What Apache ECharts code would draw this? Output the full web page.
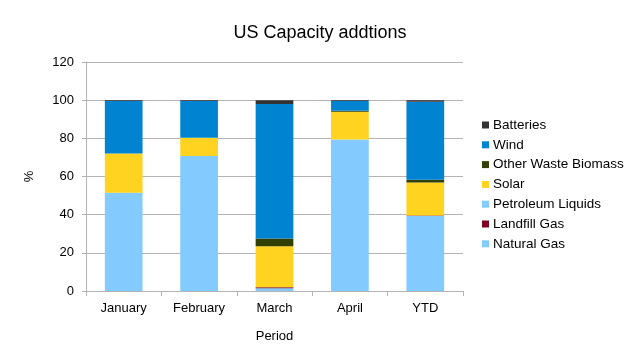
<!DOCTYPE html>
<html><head><meta charset="utf-8">
<script src="https://cdn.jsdelivr.net/npm/echarts@6/dist/echarts.min.js"></script>
<style>html,body{margin:0;padding:0;background:#fff}#c{width:640px;height:360px}</style>
</head><body><div id="c"></div>
<script>
const categories = ["January", "February", "March", "April", "YTD"];
const naturalGas = [51.5, 70.7, 1.5, 79.4, 39.3];
const landfillGas = [0, 0, 0.5, 0, 0.2];
const petroleumLiquids = [0, 0, 0, 0, 0];
const solar = [20.6, 9.6, 21.5, 14.5, 17.4];
const otherWasteBiomass = [0, 0, 4, 0.6, 1.4];
const wind = [27.4, 19.2, 70.5, 5, 40.9];
const batteries = [0.5, 0.5, 2, 0.5, 0.8];
const yTicks = [0, 20, 40, 60, 80, 100, 120];

const seriesDefs = [
  ["Natural Gas", naturalGas, "#83caff"],
  ["Landfill Gas", landfillGas, "#7e0021"],
  ["Petroleum Liquids", petroleumLiquids, "#83caff"],
  ["Solar", solar, "#ffd320"],
  ["Other Waste Biomass", otherWasteBiomass, "#314004"],
  ["Wind", wind, "#0084d1"],
  ["Batteries", batteries, "#333333"]
];
const chart = echarts.init(document.getElementById('c'));
const font = "Liberation Sans";
chart.setOption({
  animation: false,
  textStyle: {fontFamily: font},
  title: {text: "US Capacity addtions", left: 315, textAlign: "center", top: 19,
    textStyle: {fontFamily: font, fontSize: 18, fontWeight: "normal", color: "#000"}},
  grid: {left: 86, right: 177, top: 62, bottom: 69},
  legend: {
    orient: "vertical", left: 477, top: 113, itemGap: 5.8, itemWidth: 7, itemHeight: 7,
    icon: "rect", data: seriesDefs.map(s => s[0]).reverse(),
    textStyle: {fontFamily: font, fontSize: 13.5, color: "#000", padding: [0,0,0,-1]}
  },
  xAxis: {
    type: "category", data: categories, name: "Period", nameLocation: "middle", nameGap: 39,
    nameTextStyle: {fontFamily: font, fontSize: 13, color: "#000"},
    axisLine: {lineStyle: {color: "#b3b3b3"}},
    axisTick: {show: true, length: 5, lineStyle: {color: "#b3b3b3"}},
    axisLabel: {fontFamily: font, fontSize: 13, color: "#000", margin: 11}
  },
  yAxis: {
    type: "value", min: 0, max: 120, interval: 20, name: "%", nameLocation: "middle", nameGap: 50,
    nameTextStyle: {fontFamily: font, fontSize: 13, color: "#000"},
    axisLine: {show: true, lineStyle: {color: "#b3b3b3"}},
    axisTick: {show: true, length: 4, lineStyle: {color: "#b3b3b3"}},
    splitLine: {lineStyle: {color: "#b3b3b3"}},
    axisLabel: {fontFamily: font, fontSize: 13, color: "#000", margin: 12,
      formatter: v => yTicks.includes(v) ? String(v) : ""}
  },
  series: seriesDefs.map(([name, data, color]) => ({
    name, type: "bar", stack: "total", data, barWidth: "50%",
    itemStyle: {color}
  }))
});
</script></body></html>
